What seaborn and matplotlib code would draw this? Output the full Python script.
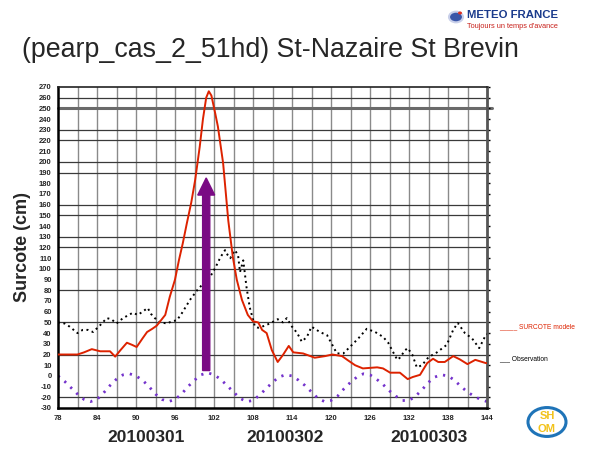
import numpy as np
import pandas as pd
import matplotlib
matplotlib.use("Agg")
import matplotlib.pyplot as plt
import seaborn as sns
from matplotlib.patches import Circle, FancyArrow

# ---------------- data ----------------
model_t = [78, 79, 80, 81, 82, 83.2, 84.5, 86, 86.8, 87.6, 88.6, 89.4, 90.1, 91, 91.7, 92.5,
           93.2, 94.5, 95.2, 96, 96.6, 97.2, 97.8, 98.5, 99.1, 99.8, 100.3, 100.8, 101.2,
           101.6, 102.2, 102.6, 103.4, 103.8, 104.2, 104.9, 105.5, 106.3, 107.2, 108, 108.8,
           109.4, 110.1, 110.9, 111.8, 112.6, 113.5, 114.2, 115.7, 117.5, 119.1, 120.2,
           121.7, 122.5, 123.7, 124.9, 127.1, 128, 129.1, 130.6, 131.8, 132.6, 133.7,
           134.8, 135.7, 136.5, 137.5, 138.8, 139.8, 141, 142.2, 143.8, 144]
model_v = [20, 20, 20, 20, 22, 25, 23, 23, 18, 24, 31, 29, 27, 35, 41, 44,
           47, 57, 74, 90, 108, 124, 142, 162, 183, 214, 240, 260, 266,
           262, 245, 233, 199, 172, 145, 111, 90, 71, 57, 51, 50,
           43, 40, 24, 13, 19.5, 28, 22, 21, 17, 18.5, 20,
           18.5, 15, 10, 7, 8, 7, 3, 3, -3, -1, 1,
           12, 16, 13, 13, 18.5, 15.5, 11, 15, 12, 12]

obs_t = [78, 79, 79.8, 81, 81.8, 82.6, 83.4, 84.5, 85.5, 86.2, 87, 88, 89.5, 90.3, 91, 91.8,
         92.3, 92.9, 93.7, 94.8, 95.5, 96.3, 97.1, 98.3, 99.4, 100.3, 101.4, 102.2, 103,
         103.7, 104.1, 104.5, 105.2, 105.7, 106, 106.5, 107, 107.5, 108.3, 108.8, 109.4,
         110.6, 111.8, 112.6, 113.2, 114, 114.8, 115.5, 116.3, 117, 118.3, 119.4, 120.2,
         120.9, 121.9, 122.9, 124.2, 125.5, 126.8, 128, 128.8, 129.4, 130.2, 130.6, 131.4,
         131.8, 132.5, 133.2, 134, 135, 136.3, 137.8, 138.8, 139.5, 140.6, 141.7, 142.8,
         143.8, 144]
obs_v = [50, 49, 46, 40, 43, 43, 41, 47.5, 54, 53, 49, 54, 59, 57, 60, 63.5,
         58, 54, 50, 49, 51, 52, 59, 71, 80, 86, 92.5, 101, 111,
         117.5, 113, 110, 117.5, 113, 97, 108, 83, 64, 46, 45, 46,
         49, 53, 50, 54, 46, 40, 32, 36.5, 46, 41, 38, 29,
         21, 21, 27, 35, 44, 41, 36.5, 31, 24, 15, 17, 24,
         26, 20, 8, 10, 17.5, 22, 29, 43, 49.5, 40, 35, 26,
         38, 39]

tide_t = list(range(78, 145))
tide_v = [0, -5, -11, -17, -22, -24, -22, -16, -9, -3, 1, 2, 0, -4, -10, -17, -22, -24,
          -22, -17, -10, -4, 1, 3, 1, -3, -9, -15, -21, -24, -23, -18, -12, -6, -1, 1,
          0, -4, -9, -15, -21, -24, -23, -19, -12, -6, -1, 2, 1, -3, -8, -14, -19, -23,
          -23, -19, -13, -6, -1, 1, 0, -4, -10, -15, -19, -22, -24]

arrow_t = 100.8
arrow_from = 5
arrow_to = 185

x_ticks = [78, 84, 90, 96, 102, 108, 114, 120, 126, 132, 138, 144]
y_ticks = list(range(-30, 271, 10))
h_grid = [260, 230, 220, 200, 190, 160, 150, 130, 120, 100, 80, 50, 20, -20]
day_labels = ["20100301", "20100302", "20100303"]
day_pos = [91.5, 112.9, 135.1]

title = "(pearp_cas_2_51hd) St-Nazaire St Brevin"

# ---------------- figure ----------------
sns.set_style("white")
plt.rcParams["font.family"] = ["Liberation Sans", "DejaVu Sans"]

fig = plt.figure(figsize=(5.92, 4.5), dpi=100)
ax = fig.add_axes([58 / 592, 1 - 408 / 450, 429 / 592, 321 / 450])

# grid
for t in np.arange(81, 144, 3):
    ax.axvline(t, color="#8a8a8a", lw=1.0, zorder=0)
for h in h_grid:
    ax.axhline(h, color="#3a3a3a", lw=0.9, zorder=0)
ax.plot([78, 144.8], [250, 250], color="#6a6a6a", lw=2.2, zorder=0, clip_on=False)

df_tide = pd.DataFrame({"t": tide_t, "v": tide_v})
df_obs = pd.DataFrame({"t": obs_t, "v": obs_v})
df_mod = pd.DataFrame({"t": model_t, "v": model_v})

sns.lineplot(data=df_tide, x="t", y="v", ax=ax, color="#7433cc", lw=2.0,
             linestyle=(0, (0.8, 2.2)), zorder=2)
sns.lineplot(data=df_obs, x="t", y="v", ax=ax, color="black", lw=1.4,
             linestyle=(0, (1, 1.8)), zorder=3)
sns.lineplot(data=df_mod, x="t", y="v", ax=ax, color="#dd2200", lw=1.4, zorder=4)

ax.add_patch(FancyArrow(arrow_t, arrow_from, 0, arrow_to - arrow_from, width=1.1,
                        head_width=2.6, head_length=16, length_includes_head=True,
                        color="#7a0a84", zorder=5))

ax.set_xlim(78, 144)
ax.set_ylim(-30, 270)
ax.set_xticks(x_ticks)
ax.set_xticks(np.arange(81, 144, 6), minor=True)
ax.set_yticks(y_ticks)
ax.set_xticklabels([str(v) for v in x_ticks], fontsize=5.5, fontweight="bold")
ax.set_yticklabels([str(v) for v in y_ticks], fontsize=5.5, fontweight="bold")
ax.tick_params(axis="both", which="major", length=3, width=1, color="black", pad=2,
               direction="out")
ax.tick_params(axis="x", which="minor", length=3, width=1, color="black", direction="out")
ax.tick_params(axis="y", right=True, which="major", length=2.5)
ax.set_xlabel("")
ax.set_ylabel("Surcote (cm)", fontsize=13, fontweight="bold", labelpad=6)

for s in ["left", "bottom"]:
    ax.spines[s].set_color("black")
    ax.spines[s].set_linewidth(1.8)
ax.spines["top"].set_color("#222222")
ax.spines["top"].set_linewidth(1.2)
ax.spines["right"].set_color("#555555")
ax.spines["right"].set_linewidth(2.0)

# day labels
for lab, pos in zip(day_labels, day_pos):
    ax.text(pos, -57.5, lab, fontsize=12.5, fontweight="bold", ha="center", va="center",
            transform=ax.transData, clip_on=False)

# title
fig.text(22 / 592, 1 - 50 / 450, title, fontsize=19.3, ha="left", va="center")

# legend
fig.text(499 / 592, 1 - 327 / 450, "_____ SURCOTE modele", fontsize=4.8, color="#dd2200",
         ha="left", va="center")
fig.text(499 / 592, 1 - 359 / 450, "___ Observation", fontsize=4.8, color="black",
         ha="left", va="center")

# Meteo France logo
fig.patches.append(Circle((456 / 592, 1 - 17 / 450), 7 / 592, transform=fig.transFigure,
                          facecolor="#3a56a8", edgecolor="#c9d0ea", lw=1.5))
fig.patches.append(Circle((460 / 592, 1 - 13 / 450), 2 / 592, transform=fig.transFigure,
                          facecolor="#e03020", edgecolor="none"))
fig.text(467 / 592, 1 - 15 / 450, "METEO FRANCE", fontsize=8.2, fontweight="bold",
         color="#1b3b8c", ha="left", va="center")
fig.text(467 / 592, 1 - 26 / 450, "Toujours un temps d'avance", fontsize=5.3,
         color="#c8201a", ha="left", va="center")

# SHOM logo
fig.patches.append(Circle((547 / 592, 1 - 422 / 450), 19 / 592, transform=fig.transFigure,
                          facecolor="white", edgecolor="#1f74b8", lw=2.2))
fig.text(547 / 592, 1 - 416 / 450, "SH", fontsize=8, fontweight="bold", color="#f2c21a",
         ha="center", va="center")
fig.text(547 / 592, 1 - 429 / 450, "OM", fontsize=8, fontweight="bold", color="#f2c21a",
         ha="center", va="center")

fig.savefig("out.png", dpi=100)
